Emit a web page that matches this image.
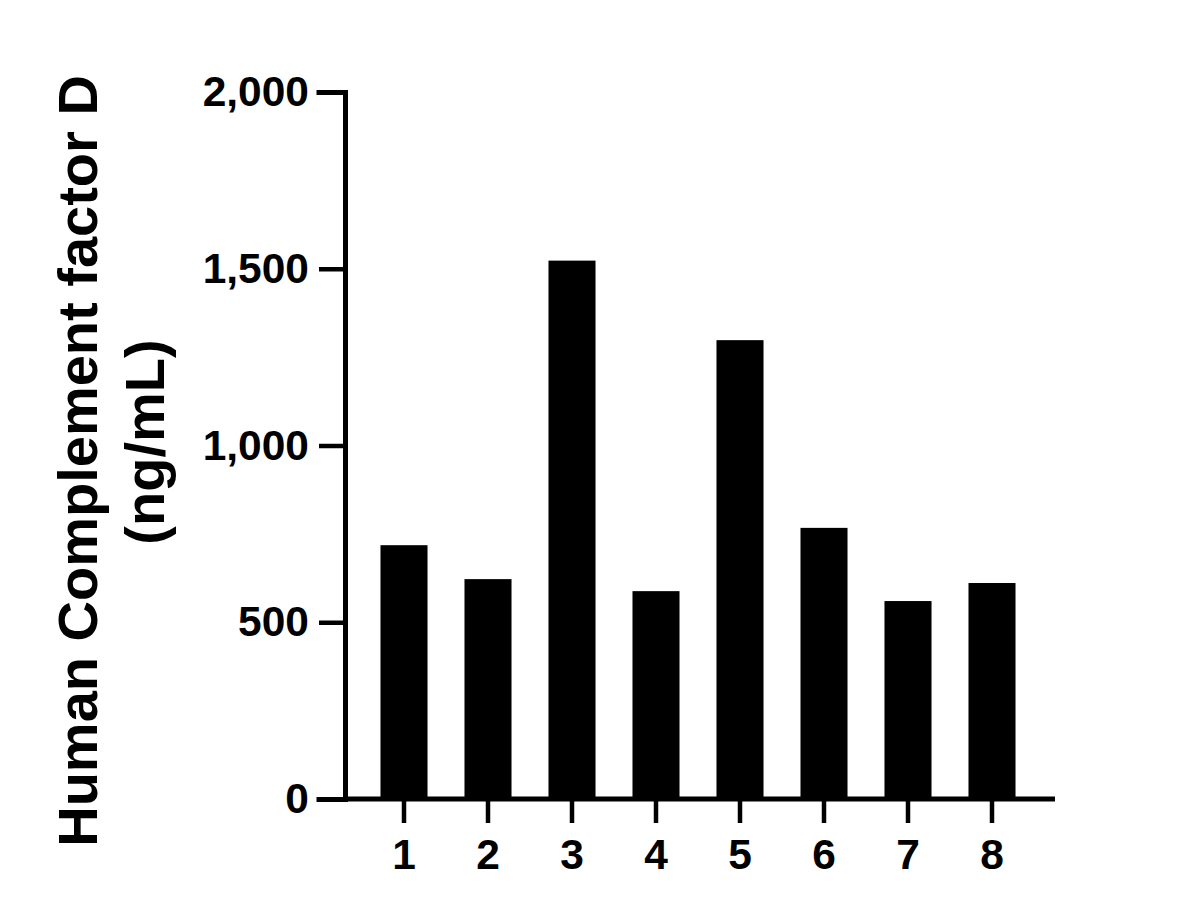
<!DOCTYPE html>
<html>
<head>
<meta charset="utf-8">
<script src="https://cdn.jsdelivr.net/npm/d3@7"></script>
<style>
  body { margin: 0; background: #fff; }
  text { font-family: "Liberation Sans", Arial, sans-serif; font-weight: bold; fill: #000; }
</style>
</head>
<body>
<div id="chart-area"></div>
<script>
// Data
let samples = ["1", "2", "3", "4", "5", "6", "7", "8"];
let values = [718, 622, 1523, 588, 1298, 767, 560, 611];
let yTicks = [0, 500, 1000, 1500, 2000];

let data = samples.map((s, i) => ({ sample: s, value: values[i] }));

let width = 1186, height = 917;

let svg = d3
  .select("#chart-area")
  .append("svg")
  .attr("width", width)
  .attr("height", height);

// Scales
let x = d3
  .scaleBand()
  .domain(samples)
  .range([362, 1034])
  .paddingInner(0.44)
  .paddingOuter(0.22);

let y = d3
  .scaleLinear()
  .domain([0, 2000])
  .range([799, 92]);

// Bars
svg
  .selectAll("rect.bar")
  .data(data)
  .enter()
  .append("rect")
  .attr("class", "bar")
  .attr("x", d => x(d.sample))
  .attr("y", d => y(d.value))
  .attr("width", x.bandwidth())
  .attr("height", d => y(0) - y(d.value))
  .attr("fill", "#000");

// Y axis
let yAxis = d3
  .axisLeft(y)
  .tickValues(yTicks)
  .tickFormat(d3.format(","))
  .tickSizeOuter(0)
  .tickSize(26)
  .tickPadding(10);

let yG = svg
  .append("g")
  .attr("class", "axis y-axis")
  .attr("transform", "translate(345,0)")
  .call(yAxis);

yG.select(".domain").attr("stroke", "#000").attr("stroke-width", 5).attr("stroke-linecap", "square");
yG.selectAll(".tick line").attr("stroke", "#000").attr("stroke-width", 4.5);
yG.selectAll(".tick text").style("font-size", "42.5px").attr("fill", "#000");

// X axis
let xAxis = d3
  .axisBottom(x)
  .tickSizeOuter(0)
  .tickSize(24)
  .tickPadding(16);

let xG = svg
  .append("g")
  .attr("class", "axis x-axis")
  .attr("transform", "translate(0,799)")
  .call(xAxis);

xG.select(".domain").remove();
xG.selectAll(".tick line").attr("stroke", "#000").attr("stroke-width", 4.5);
xG.selectAll(".tick text").style("font-size", "42.5px").attr("fill", "#000");

// x baseline spanning the plot
xG.append("line")
  .attr("x1", 345)
  .attr("x2", 1055)
  .attr("y1", 0)
  .attr("y2", 0)
  .attr("stroke", "#000")
  .attr("stroke-width", 5);

// Y axis title
svg
  .append("text")
  .attr("transform", "translate(97,461) rotate(-90)")
  .attr("text-anchor", "middle")
  .style("font-size", "56px")
  .text("Human Complement factor D");

svg
  .append("text")
  .attr("transform", "translate(164,442) rotate(-90)")
  .attr("text-anchor", "middle")
  .style("font-size", "56px")
  .text("(ng/mL)");
</script>
</body>
</html>
